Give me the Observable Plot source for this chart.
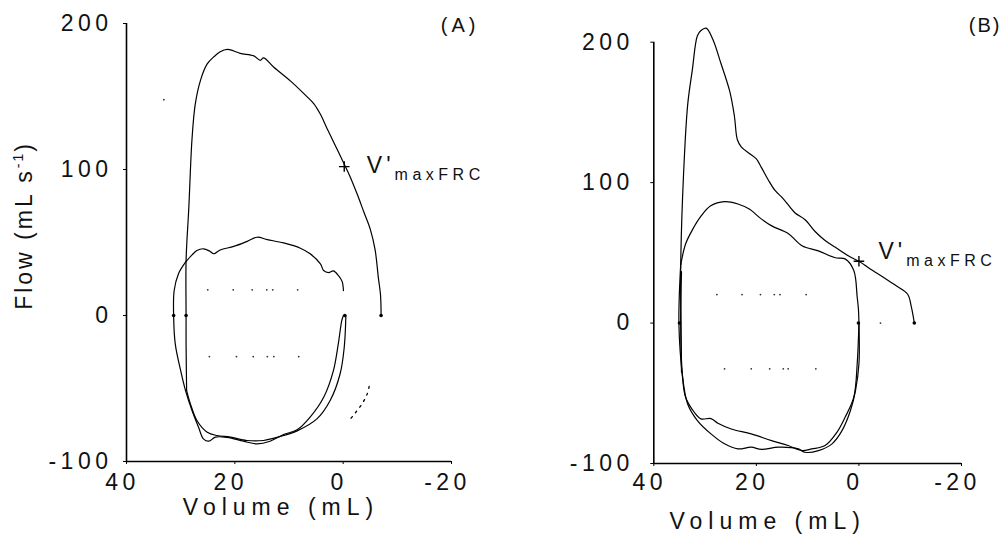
<!DOCTYPE html>
<html><head><meta charset="utf-8">
<script src="https://cdn.jsdelivr.net/npm/d3@7"></script>
<script src="https://cdn.jsdelivr.net/npm/@observablehq/plot@0.6"></script>
<style>
body{margin:0;background:#fff;}
#wrap{display:flex;width:1004px;height:545px;overflow:hidden;}
svg text{font-family:'Liberation Sans',Arial,sans-serif;letter-spacing:4.5px;}
</style></head><body><div id="wrap"></div>
<script>
// ---- axes ----
const xTicks = [40, 20, 0, -20];
const yTicks = [-100, 0, 100, 200];
const xLabel = "Volume (mL)";
const yLabel = "Flow (mL s-1)";
const panelNames = ["(A)", "(B)"];
const markerLabel = "V'maxFRC";

// ---- panel A ----
const aForcedVol  = [28.9, 29.0, 29.0, 29.0, 28.5, 27.9, 27.3, 26.3, 25.1, 23.9, 22.7, 21.4, 20.2, 19.0, 16.5, 15.3, 14.7, 12.8, 9.7, 7.3, 5.4, 4.2, 3.0, 1.75, -0.1, -1.3, -2.6, -3.8, -5.0, -5.9, -6.5, -6.9, -7.0];
const aForcedFlow = [-51.4, -20, 0, 37.7, 73.5, 121.2, 145, 161.6, 172.3, 177.1, 180.7, 182.3, 181.2, 179.5, 177.8, 174.8, 176.4, 170, 160.5, 152.1, 145, 137.8, 128.3, 118.7, 104.4, 94.9, 83, 71.1, 59.2, 44.9, 25.8, 13.9, 0];
const aTidalUpVol  = [29.1, 27.9, 27.0, 25.8, 24.6, 23.9, 22.7, 20.2, 17.7, 15.9, 14.0, 11.0, 7.9, 6.1, 4.2, 3.6, 2.7, 1.8, 0.9, 0.2, -0.05];
const aTidalUpFlow = [36.5, 41.5, 44.5, 45.7, 44.0, 42.3, 44.9, 47.3, 50.8, 53.6, 52.0, 49.7, 46.1, 42.3, 35.4, 30.8, 29.4, 30.6, 27.5, 23.4, 17.1];
const aTidalOutVol  = [29.1, 30.4, 31.2, 31.3, 31.0, 30.0, 29.1, 27.9, 26.7, 25.8, 24.8, 23.6, 21.4, 18.4, 15.9, 13.5, 11.0, 8.5, 6.1, 3.6, 1.8, 0.9, 0.25, -0.05];
const aTidalOutFlow = [36.5, 28.6, 17.1, 0, -19.4, -37.7, -51.4, -65.1, -76.5, -84.5, -86.1, -83.3, -83.5, -86.1, -87.9, -86.1, -81.5, -78.3, -69.6, -56, -37.7, -19.4, -3.4, 0];
const aTidalInVol  = [-0.5, -0.2, 0.56, 2.4, 4.85, 8.5, 11.6, 14.7, 17.8, 20.8, 23.3, 25.1, 27.0, 28.2, 28.9];
const aTidalInFlow = [0, -21.7, -39.9, -58.2, -70.8, -79, -82.9, -85.6, -85.6, -83.3, -82.2, -79.9, -71.9, -60.5, -51.4];
const aDottedVol  = [-4.8, -4.4, -3.4, -2.2, -1.0];
const aDottedFlow = [-48.6, -54.1, -61, -66.9, -72.4];
const aRowVol  = [25.0, 20.3, 16.8, 14.1, 13.0, 8.4, 24.7, 19.7, 16.6, 14.0, 12.8, 8.2, 33.1];
const aRowFlow = [17.6, 17.6, 17.6, 17.6, 17.6, 17.6, -28.1, -28.1, -28.1, -28.1, -28.1, -28.1, 147.8];
const aZeroVol  = [31.3, 29.0, -0.3, -7.0];
const aZeroFlow = [0, 0, 0, 0];
const aMarker = {v: -0.2, f: 102};

// ---- panel B ----
const bForcedVol  = [34.6, 34.7, 34.75, 34.2, 33.4, 32.5, 31.5, 30.8, 29.8, 28.5, 26.9, 25.2, 24.3, 23.7, 22.95, 21.3, 20.0, 19.0, 17.7, 16.4, 14.75, 12.5, 10.5, 8.5, 6.6, 4.6, 2.0, 0, -2.0, -4.6, -7.2, -9.5, -10.2, -10.8];
const bForcedFlow = [-35, 0, 41.5, 105.8, 155.2, 179.9, 204.6, 208.3, 210, 202.1, 184.8, 165.1, 147.8, 130.5, 125.5, 120.6, 116.9, 110.7, 102.1, 94.6, 88.5, 78.6, 73.6, 65, 58.8, 53.9, 47.7, 44, 39, 32.9, 26.7, 20.5, 11.9, 0];
const bTidalUpVol  = [34.75, 33.8, 32.5, 30.8, 28.9, 26.2, 23.6, 21.3, 19.3, 17.0, 13.8, 11.1, 7.9, 4.6, 2.7, 1.0, 0.34, 0.1, 0];
const bTidalUpFlow = [41.5, 56.3, 66.2, 76.1, 83.5, 86.5, 84.8, 81, 74.9, 69.2, 63.8, 55.1, 51.4, 46.5, 45.7, 37.4, 18.4, 10, 0];
const bTidalInVol  = [0, 0.34, 1.0, 2.7, 4.3, 6.6, 9.2, 11.15, 13.8, 17.05, 21.0, 24.9, 27.5, 28.85, 30.8, 32.1, 33.8, 34.4, 35.1, 34.75];
const bTidalInFlow = [0, -29.1, -52.8, -67.1, -77.8, -87.2, -89.6, -90.8, -87.2, -83.7, -78.9, -75.4, -71.4, -68, -68.2, -63.5, -52.8, -38.6, -0.6, 42.2];
const bTidalOutVol  = [0, 0, 0.67, 1.65, 3.3, 5.25, 7.9, 10.5, 11.8, 15.7, 19.0, 21.0, 23.6, 26.2, 28.85, 31.5, 33.4, 34.4, 34.75, 34.6];
const bTidalOutFlow = [0, -29.1, -48.1, -62.3, -76.6, -86, -90.8, -92, -89.6, -88.4, -90, -88.4, -89.6, -86, -78.9, -69.4, -57.6, -37.6, 0, 36.6];
const bRowVol  = [27.7, 22.8, 19.2, 16.5, 15.4, 10.3, 26.2, 21.0, 17.4, 14.75, 13.8, 8.4, -4.2];
const bRowFlow = [20.3, 20.3, 20.3, 20.3, 20.3, 20.3, -32.6, -32.6, -32.6, -32.6, -32.6, -32.6, 0];
const bZeroVol  = [35.0, 0.1, -10.8];
const bZeroFlow = [0, 0, 0];
const bMarker = {v: 0, f: 44};

const pts = (vol, flow) => vol.map((v, i) => ({v, f: flow[i]}));
const fmt = d => String(d);

function panel(cfg) {
  const lineOpt = {x: "v", y: "f", curve: "catmull-rom", stroke: "#000", strokeWidth: 1.2};
  const marks = [
    Plot.ruleX([xTicks[0]], {y1: yTicks[0], y2: yTicks[yTicks.length - 1], stroke: "#000", strokeWidth: 1.6}),
    Plot.ruleY([yTicks[0]], {x1: xTicks[0], x2: xTicks[xTicks.length - 1], stroke: "#000", strokeWidth: 1.6}),
    Plot.axisY(yTicks, {anchor: "left", label: null, tickSize: 3, tickPadding: cfg.yPad, tickFormat: fmt, fontSize: 23, stroke: "#000"}),
    Plot.axisX(xTicks, {anchor: "bottom", label: null, tickSize: 3, tickFormat: () => "", stroke: "#000"}),
    Plot.axisX(xTicks, {anchor: "bottom", label: null, tickSize: 0, tickPadding: cfg.xPad, tickFormat: fmt, fontSize: 23, dx: -4}),
    ...cfg.lines.map(l => Plot.line(l, lineOpt)),
    Plot.line(cfg.dotted, {...lineOpt, strokeDasharray: "2,5", strokeWidth: 1.3}),
    Plot.dot(cfg.rows, {x: "v", y: "f", r: 0.9, fill: "#333", stroke: null}),
    Plot.dot(cfg.zeros, {x: "v", y: "f", r: 1.8, fill: "#000", stroke: null}),
    Plot.dot([cfg.marker], {x: "v", y: "f", symbol: "plus", r: 3.5, stroke: "#000", strokeWidth: 1.4}),
    Plot.text([cfg.marker], {x: "v", y: "f", text: () => markerLabel, textAnchor: "start", lineAnchor: "bottom", dx: cfg.mdx, dy: cfg.mdy, fontSize: 23, fill: "#111"}),
    Plot.text([cfg.name], {frameAnchor: "top-right", textAnchor: "end", lineAnchor: "middle", dx: cfg.ndx, dy: cfg.ndy, fontSize: 20, fill: "#111"}),
    Plot.text([xLabel], {frameAnchor: "bottom", textAnchor: "middle", lineAnchor: "middle", dx: cfg.xldx, dy: cfg.xldy, fontSize: 23, fill: "#111"})
  ];
  if (cfg.showY) marks.push(Plot.text([yLabel], {frameAnchor: "left", rotate: -90, textAnchor: "middle", lineAnchor: "middle", dx: -102, dy: -17, fontSize: 23, fill: "#111"}));
  const svg = Plot.plot({
    width: 502, height: 545,
    marginLeft: cfg.ml, marginRight: cfg.mr, marginTop: cfg.mt, marginBottom: cfg.mb,
    x: {domain: [xTicks[0], xTicks[xTicks.length - 1]], axis: null},
    y: {domain: [yTicks[0], yTicks[yTicks.length - 1]], axis: null},
    style: {background: "#fff", color: "#111", overflow: "visible", fontFamily: "'Liberation Sans', Arial, sans-serif"},
    marks
  });
  const s = d3.select(svg);
  s.selectAll("text").each(function() {
    const t = d3.select(this);
    const txt = this.textContent;
    if (txt === yLabel) {
      t.text("").style("letter-spacing", "3px");
      t.append("tspan").text("Flow (mL s");
      t.append("tspan").attr("dy", -9).attr("font-size", 14).style("letter-spacing", "2px").text("-1");
      t.append("tspan").attr("dy", 9).text(")");
    } else if (txt === markerLabel) {
      t.text("");
      t.append("tspan").style("letter-spacing", "4px").text("V'");
      t.append("tspan").attr("dy", 7).attr("font-size", 16).style("letter-spacing", "4.5px").text("maxFRC");
    } else if (txt === xLabel) {
      t.style("letter-spacing", "6px");
    } else if (panelNames.includes(txt)) {
      t.style("letter-spacing", cfg.nls);
    }
  });
  return svg;
}

const wrap = document.getElementById("wrap");
wrap.appendChild(panel({
  ml: 126, mr: 51, mt: 23, mb: 84, yPad: 11, xPad: 12,
  lines: [pts(aForcedVol, aForcedFlow), pts(aTidalUpVol, aTidalUpFlow), pts(aTidalOutVol, aTidalOutFlow), pts(aTidalInVol, aTidalInFlow)],
  dotted: pts(aDottedVol, aDottedFlow),
  rows: pts(aRowVol, aRowFlow), zeros: pts(aZeroVol, aZeroFlow),
  marker: aMarker, mdx: 22.6, mdy: 6.9,
  name: panelNames[0], ndx: 28, ndy: 2, nls: "4px",
  xldx: -8, xldy: 46, showY: true
}));
wrap.appendChild(panel({
  ml: 151.3, mr: 43, mt: 41.7, mb: 82, yPad: 17, xPad: 10,
  lines: [pts(bForcedVol, bForcedFlow), pts(bTidalUpVol, bTidalUpFlow), pts(bTidalInVol, bTidalInFlow), pts(bTidalOutVol, bTidalOutFlow)],
  dotted: [],
  rows: pts(bRowVol, bRowFlow), zeros: pts(bZeroVol, bZeroFlow),
  marker: bMarker, mdx: 19.6, mdy: -2.7,
  name: panelNames[1], ndx: 40, ndy: -16.7, nls: "2px",
  xldx: -40, xldy: 58, showY: false
}));
</script></body></html>
